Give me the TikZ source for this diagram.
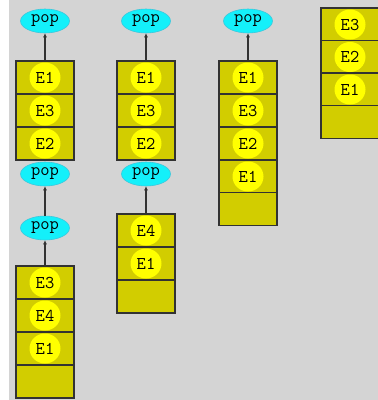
\documentclass[tikz,border=0pt]{standalone}
\usetikzlibrary{shapes.geometric,arrows.meta}
\definecolor{bggray}{RGB}{212,212,212}
\definecolor{cellfill}{RGB}{210,205,0}
\definecolor{tokfill}{RGB}{255,255,0}
\definecolor{popfill}{RGB}{20,240,250}
\definecolor{popedge}{RGB}{60,200,220}
\definecolor{linegray}{RGB}{50,50,50}
\tikzset{
  cell/.style={draw=linegray,line width=1.4pt,fill=cellfill,minimum width=58pt,minimum height=33pt,inner sep=0pt,outer sep=0pt},
  tok/.style={ellipse,fill=tokfill,minimum width=31pt,minimum height=30pt,inner sep=0pt,font=\ttfamily\fontsize{18}{18}\selectfont},
  popn/.style={ellipse,fill=popfill,draw=popedge,line width=0.6pt,minimum width=49pt,minimum height=24pt,inner sep=0pt,font=\ttfamily\fontsize{18}{18}\selectfont},
  link/.style={draw=linegray,line width=1.6pt,-{Latex[length=4pt,width=4pt]}},
}
\begin{document}
\begin{tikzpicture}[x=1pt,y=-1pt]
\useasboundingbox (0,0) rectangle (378,400);
\fill[bggray] (0,0) rectangle (378,400);
\fill[white] (0,0) rectangle (9,400);

% Column 1 upper
\node[popn] (p1) at (45,21) {pop};
\node[cell] (a1) at (45,77.5) {};
\node[cell] (a2) at (45,110.5) {};
\node[cell] (a3) at (45,143.5) {};
\node[tok] (ta1) at (a1) {E1};
\node[tok] (ta2) at (a2) {E3};
\node[tok] (ta3) at (a3) {E2};
\draw[link] (a1.north) -- (p1.south);

% Column 1 lower
\node[popn] (p2) at (45,174) {pop};
\node[popn] (p3) at (45,228) {pop};
\draw[link] (p3.north) -- (p2.south);
\node[cell] (b1) at (45,282.5) {};
\node[cell] (b2) at (45,315.5) {};
\node[cell] (b3) at (45,348.5) {};
\node[cell] (b4) at (45,381.5) {};
\node[tok] (tb1) at (b1) {E3};
\node[tok] (tb2) at (b2) {E4};
\node[tok] (tb3) at (b3) {E1};
\draw[link] (b1.north) -- (p3.south);

% Column 2 upper
\node[popn] (p4) at (146,21) {pop};
\node[cell] (c1) at (146,77.5) {};
\node[cell] (c2) at (146,110.5) {};
\node[cell] (c3) at (146,143.5) {};
\node[tok] (tc1) at (c1) {E1};
\node[tok] (tc2) at (c2) {E3};
\node[tok] (tc3) at (c3) {E2};
\draw[link] (c1.north) -- (p4.south);

% Column 2 lower
\node[popn] (p5) at (146,174) {pop};
\node[cell] (d1) at (146,230.5) {};
\node[cell] (d2) at (146,263.5) {};
\node[cell] (d3) at (146,296.5) {};
\node[tok] (td1) at (d1) {E4};
\node[tok] (td2) at (d2) {E1};
\draw[link] (d1.north) -- (p5.south);

% Column 3
\node[popn] (p6) at (248,21) {pop};
\node[cell] (e1) at (248,77.5) {};
\node[cell] (e2) at (248,110.5) {};
\node[cell] (e3) at (248,143.5) {};
\node[cell] (e4) at (248,176.5) {};
\node[cell] (e5) at (248,209) {};
\node[tok] (te1) at (e1) {E1};
\node[tok] (te2) at (e2) {E3};
\node[tok] (te3) at (e3) {E2};
\node[tok] (te4) at (e4) {E1};
\draw[link] (e1.north) -- (p6.south);

% Column 4
\node[cell] (f1) at (350,24.5) {};
\node[cell] (f2) at (350,57) {};
\node[cell] (f3) at (350,89.5) {};
\node[cell] (f4) at (350,122) {};
\node[tok] (tf1) at (f1) {E3};
\node[tok] (tf2) at (f2) {E2};
\node[tok] (tf3) at (f3) {E1};
\end{tikzpicture}
\end{document}
